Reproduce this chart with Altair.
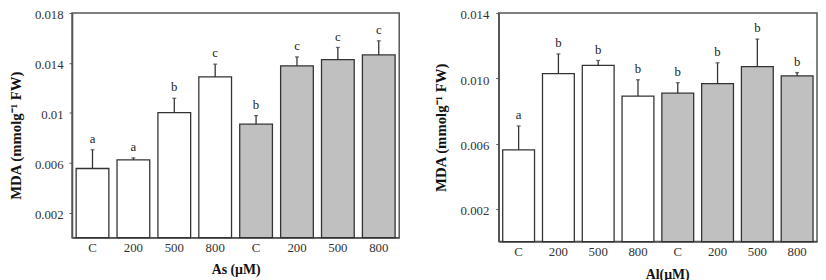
import altair as alt
import pandas as pd

# ---- data ----
dose_labels = ["C", "200", "500", "800", "C", "200", "500", "800"]
groups = ["white", "white", "white", "white", "gray", "gray", "gray", "gray"]

as_mean = [0.00554, 0.00623, 0.01001, 0.01288, 0.00909, 0.01377, 0.01427, 0.01464]
as_se = [0.00150, 0.00016, 0.00116, 0.00102, 0.00069, 0.00071, 0.00097, 0.00113]
as_letters = ["a", "a", "b", "c", "b", "c", "c", "c"]

al_mean = [0.00562, 0.01029, 0.01079, 0.00891, 0.00909, 0.00967, 0.01071, 0.01015]
al_se = [0.00146, 0.00120, 0.00030, 0.00100, 0.00064, 0.00128, 0.00169, 0.00020]
al_letters = ["a", "b", "b", "b", "b", "b", "b", "b"]

y_title = "MDA (mmolg\u207b\u00b9 FW)"
left_ticks = [0.002, 0.004, 0.006, 0.008, 0.01, 0.012, 0.014, 0.016, 0.018]
right_ticks = [0.002, 0.004, 0.006, 0.008, 0.01, 0.012, 0.014]

SERIF = "Liberation Serif"
label_expr_x = "[" + ",".join("'%s'" % s for s in dose_labels) + "][toNumber(datum.value)]"


def make_df(mean, se, letters):
    return pd.DataFrame({
        "idx": list(range(len(mean))),
        "mean": mean,
        "top": [m + s for m, s in zip(mean, se)],
        "letter": letters,
        "group": groups,
    })


def panel(df, ymax, ticks, y_label_expr, width, height, x_title, x_title_x,
          label_pad_y, title_pad_y, title_y, label_off, x_title_pad, extra_top):
    base = alt.Chart(df)
    x_axis_kw = dict(title=x_title, labelExpr=label_expr_x, labelAngle=0,
                     ticks=False, tickSize=0, labelPadding=4, titlePadding=x_title_pad)
    if x_title_x is not None:
        x_axis_kw["titleX"] = x_title_x
    x = alt.X("idx:O", scale=alt.Scale(paddingInner=0.2, paddingOuter=0.1),
              axis=alt.Axis(**x_axis_kw))
    y_scale = alt.Scale(domain=[0, ymax], nice=False, zero=True)
    y_axis_kw = dict(title=y_title, values=ticks, labelExpr=y_label_expr, grid=False,
                     tickSize=3, labelPadding=label_pad_y, titlePadding=title_pad_y,
                     labelOffset=label_off, titleFontSize=15)
    if title_y is not None:
        y_axis_kw["titleY"] = title_y
    bars = base.mark_bar(stroke="#333333", strokeWidth=1.3).encode(
        x=x,
        y=alt.Y("mean:Q", scale=y_scale, axis=alt.Axis(**y_axis_kw)),
        fill=alt.Fill("group:N", scale=alt.Scale(domain=["white", "gray"],
                                                 range=["#ffffff", "#c0c0c0"]), legend=None),
    )
    err = base.mark_rule(color="#333333", strokeWidth=1.3).encode(
        x="idx:O", y="mean:Q", y2="top:Q")
    cap = base.mark_tick(color="#333333", size=4, thickness=1.3).encode(
        x="idx:O", y="top:Q")
    txt = base.mark_text(font=SERIF, fontSize=13, baseline="alphabetic", dy=-7,
                         color="#222222", fill="#222222").encode(
        x="idx:O", y="top:Q", text="letter:N")
    layers = [bars, err, cap, txt]
    if extra_top is not None:
        spacer = alt.Chart(pd.DataFrame({"a": [0]})).mark_rule(
            opacity=0, strokeOpacity=0).encode(
            x=alt.value(0), x2=alt.value(1), y=alt.value(extra_top))
        layers.append(spacer)
    return alt.layer(*layers).properties(width=width, height=height)


left_label_expr = ("round(datum.value*1000) % 4 == 2 ? "
                   "(round(datum.value*1000) == 10 ? '0.01' : format(datum.value, '.3f')) : ''")
right_label_expr = "round(datum.value*1000) % 4 == 2 ? format(datum.value, '.3f') : ''"

left = panel(make_df(as_mean, as_se, as_letters), 0.018, left_ticks, left_label_expr,
             332, 228, "As (\u00b5M)", None, 6, 11, 124, 2, 8, -11)
right = panel(make_df(al_mean, al_se, al_letters), 0.014, right_ticks, right_label_expr,
              323, 232, "Al(\u00b5M)", 171, 7, 12, None, 2, 9, None)

chart = alt.hconcat(left, right, spacing=33).properties(
    padding={"left": 0, "top": -9, "right": 0, "bottom": 0}
).configure_view(
    stroke="#555555", strokeWidth=1.5
).configure_axis(
    labelFont=SERIF, labelFontSize=13, labelColor="#333333",
    titleFont=SERIF, titleFontSize=14, titleFontWeight="bold", titleColor="#111111",
    domainColor="#555555", domainWidth=1.5, tickColor="#555555",
)

chart.save("out.html", embed_options={"renderer": "svg", "actions": False})
